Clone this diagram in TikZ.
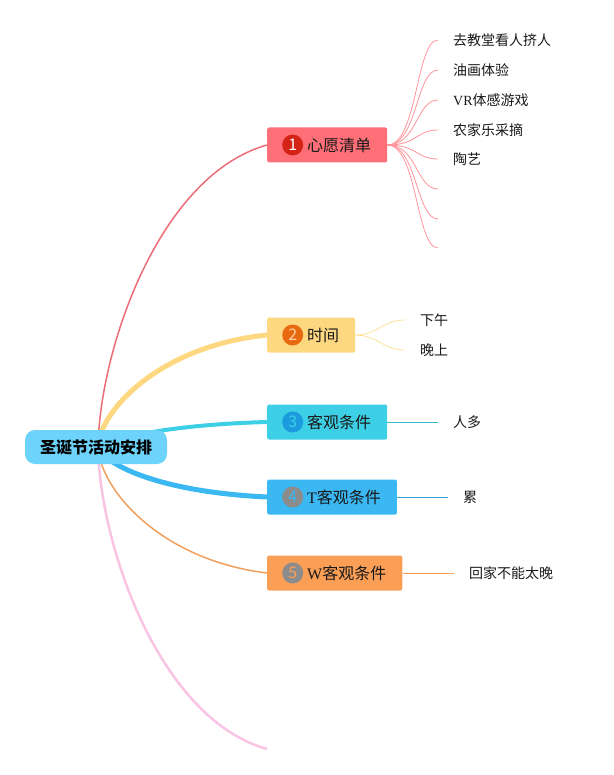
\documentclass[tikz,border=0pt]{standalone}
\usepackage{fontspec}
\setmainfont{Liberation Serif}
\newfontfamily\cjk{Noto Sans CJK SC}
\usepackage{tikz}
\usetikzlibrary{positioning,backgrounds}
\definecolor{rootblue}{RGB}{110, 211, 250}
\definecolor{wishred}{RGB}{255, 111, 120}
\definecolor{wishedge}{RGB}{236, 109, 120}
\definecolor{timeyellow}{RGB}{253, 216, 128}
\definecolor{objcyan}{RGB}{61, 207, 229}
\definecolor{tobjblue}{RGB}{59, 183, 242}
\definecolor{wobjorange}{RGB}{251, 158, 86}
\definecolor{wobjedge}{RGB}{240, 160, 92}
\definecolor{pinkedge}{RGB}{249, 196, 228}
\definecolor{badgered}{RGB}{212, 35, 23}
\definecolor{badgeorange}{RGB}{232, 106, 16}
\definecolor{badgeblue}{RGB}{27, 155, 222}
\definecolor{badgegray}{RGB}{140, 140, 140}
\newcommand{\romtxt}[1]{{\rmfamily #1}}
\tikzset{
    topic/.style={rectangle, rounded corners=2pt, minimum height=35pt, inner xsep=16pt, inner ysep=0pt, anchor=west, text=black!90, font=\fontsize{16}{18}\selectfont\cjk},
    badge/.style={circle, minimum size=21pt, inner sep=0pt, font=\fontsize{16}{18}\selectfont\cjk},
    leaf/.style={anchor=west, inner xsep=15pt, inner ysep=2pt, text=black!90, font=\fontsize{14}{16}\selectfont\cjk},
    leafline/.style={line width=0.8pt}
}

\begin{document}
\begin{tikzpicture}[x=1pt, y=-1pt]
    \useasboundingbox (0,0) rectangle (613,775);

    \node[fill=rootblue, rounded corners=10pt, minimum width=142pt, minimum height=34pt, inner sep=0pt, font=\fontsize{16}{18}\selectfont\cjk\bfseries] (root) at (96,447) {圣诞节活动安排};
    \coordinate (hub) at (98,447);
    \coordinate (pinkend) at (267,749);

    \node[topic, fill=wishred] (wish) at (267,145) {\hspace{24pt}心愿清单};
    \node[topic, fill=timeyellow] (time) at (267,335) {\hspace{24pt}时间};
    \node[topic, fill=objcyan] (obj) at (267,422) {\hspace{24pt}客观条件};
    \node[topic, fill=tobjblue] (tobj) at (267,497) {\hspace{24pt}\romtxt{T}客观条件};
    \node[topic, fill=wobjorange] (wobj) at (267,573) {\hspace{24pt}\romtxt{W}客观条件};

    \node[badge, fill=badgered, text=white, right=15pt of wish.west] (b1) {1};
    \node[badge, fill=badgeorange, text=orange!35, right=15pt of time.west] (b2) {2};
    \node[badge, fill=badgeblue, text=objcyan, right=15pt of obj.west] (b3) {3};
    \node[badge, fill=badgegray, text=tobjblue, right=15pt of tobj.west] (b4) {4};
    \node[badge, fill=badgegray, text=wobjorange, right=15pt of wobj.west] (b5) {5};

    \foreach \y/\t [count=\i] in {40/去教堂看人挤人, 70/油画体验, 100/\romtxt{VR}体感游戏, 130/农家乐采摘, 159/陶艺, 189/, 219/, 248/}
        \node[leaf] (w\i) at (438,\y) {\t};
    \node[leaf] (t1) at (405,320) {下午};
    \node[leaf] (t2) at (405,350) {晚上};
    \node[leaf] (o1) at (438,422) {人多};
    \node[leaf] (p1) at (448,497) {累};
    \node[leaf] (q1) at (454,573) {回家不能太晚};

    \begin{pgfonlayer}{background}
        \draw[wishedge, line width=1.5pt] (hub) .. controls (100,347) and (160,175) .. (wish.west);
        \draw[timeyellow, line width=5pt] (hub) .. controls (100,410) and (160,346) .. (time.west);
        \draw[objcyan, line width=4pt] (hub) .. controls (110,440) and (160,425) .. (obj.west);
        \draw[tobjblue, line width=5pt] (hub) .. controls (105,465) and (160,492) .. (tobj.west);
        \draw[wobjedge, line width=1.5pt] (hub) .. controls (100,489) and (160,560) .. (wobj.west);
        \draw[pinkedge, line width=2.5pt] (hub) .. controls (100,547) and (160,719) .. (pinkend);

        \foreach \i in {1,...,8}
            \draw[leafline, wishred!75] (wish.east) .. controls +(30,0) and +(-22,0) .. (w\i.west);
        \foreach \i in {1,2}
            \draw[leafline, timeyellow!80] (time.east) .. controls +(22,0) and +(-22,0) .. (t\i.west);
        \draw[leafline, objcyan!90!black] (obj.east) -- (o1.west);
        \draw[leafline, tobjblue!90!black] (tobj.east) -- (p1.west);
        \draw[leafline, wobjorange] (wobj.east) -- (q1.west);
    \end{pgfonlayer}
\end{tikzpicture}
\end{document}
